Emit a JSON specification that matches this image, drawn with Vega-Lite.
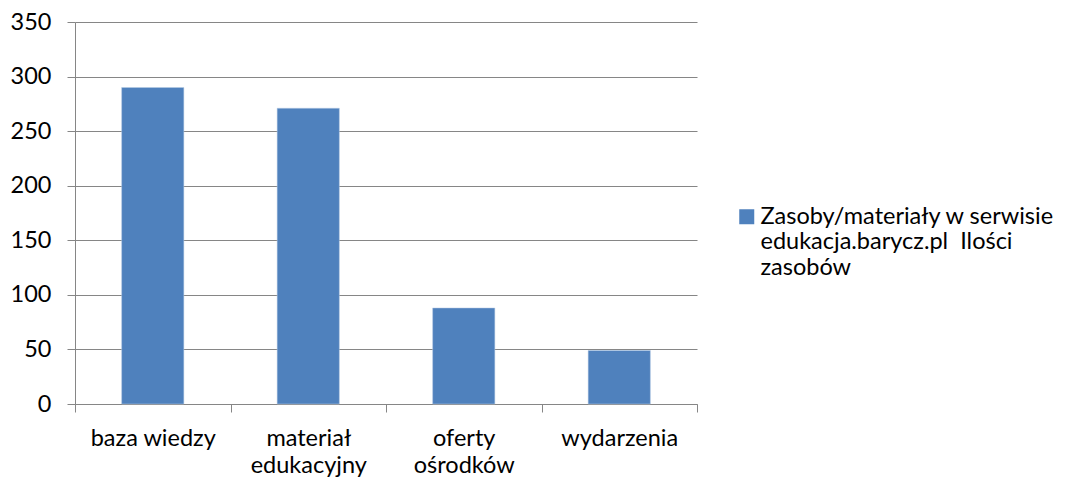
{
  "$schema": "https://vega.github.io/schema/vega-lite/v6.json",
  "width": 622,
  "height": 382,
  "autosize": "none",
  "padding": {"left": 75, "top": 22, "right": 375, "bottom": 78},
  "background": "white",
  "config": {
    "view": {"stroke": null},
    "font": "Lato"
  },
  "data": {
    "values": [
      {"kategoria": "baza wiedzy", "wartosc": 290, "seria": "Zasoby/materiały w serwisie edukacja.barycz.pl  Ilości zasobów"},
      {"kategoria": "materiał edukacyjny", "wartosc": 271, "seria": "Zasoby/materiały w serwisie edukacja.barycz.pl  Ilości zasobów"},
      {"kategoria": "oferty ośrodków", "wartosc": 88, "seria": "Zasoby/materiały w serwisie edukacja.barycz.pl  Ilości zasobów"},
      {"kategoria": "wydarzenia", "wartosc": 49, "seria": "Zasoby/materiały w serwisie edukacja.barycz.pl  Ilości zasobów"}
    ]
  },
  "mark": {"type": "bar", "color": "#4F81BD", "stroke": "#B9CDE5", "strokeWidth": 0.5, "width": {"band": 0.4}},
  "encoding": {
    "x": {
      "field": "kategoria",
      "type": "nominal",
      "sort": null,
      "scale": {"paddingInner": 0, "paddingOuter": 0},
      "axis": {
        "title": null,
        "labelAngle": 0,
        "labelFontSize": 23.5,
        "labelColor": "#000000",
        "labelFont": "Lato",
        "labelPadding": 14,
        "labelLineHeight": 27,
        "labelExpr": "datum.label == 'materiał edukacyjny' ? ['materiał', 'edukacyjny'] : datum.label == 'oferty ośrodków' ? ['oferty', 'ośrodków'] : datum.label",
        "tickBand": "extent",
        "domainColor": "#868686",
        "tickColor": "#868686",
        "tickSize": 8,
        "grid": false
      }
    },
    "y": {
      "field": "wartosc",
      "type": "quantitative",
      "scale": {"domain": [0, 350], "nice": false},
      "axis": {
        "title": null,
        "values": [0, 50, 100, 150, 200, 250, 300, 350],
        "labelFontSize": 23.5,
        "labelColor": "#000000",
        "labelFont": "Lato",
        "labelPadding": 16,
        "domainColor": "#868686",
        "tickColor": "#868686",
        "tickSize": 8,
        "gridColor": "#868686",
        "gridWidth": 1.2
      }
    },
    "fill": {
      "field": "seria",
      "type": "nominal",
      "scale": {"range": ["#4F81BD"]},
      "legend": {
        "title": null,
        "orient": "none",
        "legendX": 660,
        "legendY": 183,
        "symbolType": "square",
        "symbolSize": 225,
        "symbolStrokeWidth": 0,
        "labelFontSize": 23.5,
        "labelFont": "Lato",
        "labelColor": "#000000",
        "labelLimit": 400,
        "labelLineHeight": 27.5,
        "labelBaseline": "middle",
        "labelOffset": 2,
        "labelExpr": "['Zasoby/materiały w serwisie', 'edukacja.barycz.pl\u00a0 Ilości', 'zasobów']"
      }
    }
  }
}
